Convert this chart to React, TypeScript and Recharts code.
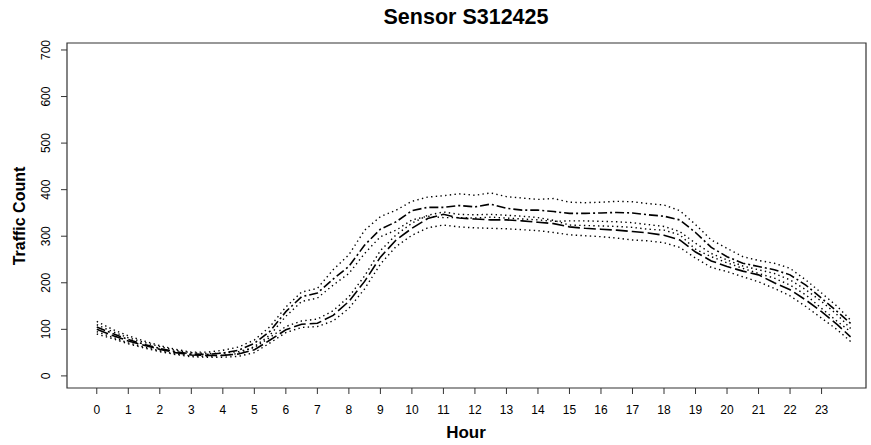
import { LineChart, Line, XAxis, YAxis, ReferenceArea } from "recharts"

const hours = [
  0, 0.5, 1, 1.5, 2, 2.5, 3, 3.5, 4, 4.5, 5, 5.5, 6, 6.5, 7, 7.5, 8, 8.5, 9, 9.5,
  10, 10.5, 11, 11.5, 12, 12.5, 13, 13.5, 14, 14.5, 15, 15.5, 16, 16.5, 17, 17.5,
  18, 18.5, 19, 19.5, 20, 20.5, 21, 21.5, 22, 22.5, 23, 23.5, 23.92,
]

// group with dot-dash mean line
const aUpper = [
  117, 100, 86, 75, 65, 57, 51, 51, 55, 62, 77, 106, 148, 180, 188, 228, 260, 313, 342, 356,
  375, 384, 387, 391, 388, 393, 385, 382, 379, 381, 373, 372, 373, 375, 374, 370,
  367, 355, 325, 292, 274, 256, 248, 242, 231, 206, 178, 149, 120,
]
const aMean = [
  105, 91, 78, 68, 59, 52, 47, 46, 49, 55, 70, 96, 138, 170, 178, 208, 235, 281, 315, 331,
  355, 362, 362, 366, 363, 369, 360, 356, 356, 353, 349, 349, 350, 351, 350, 346,
  343, 335, 308, 276, 256, 242, 235, 228, 217, 195, 167, 138, 113,
]
const aLower = [
  95, 83, 71, 62, 54, 47, 43, 42, 44, 48, 63, 88, 128, 160, 167, 195, 220, 263, 299, 313,
  335, 343, 340, 340, 339, 341, 339, 337, 335, 332, 333, 333, 332, 331, 329, 325,
  321, 310, 285, 263, 249, 236, 228, 220, 206, 185, 160, 131, 102,
]

// group with long-dash mean line
const bUpper = [
  110, 95, 82, 72, 63, 55, 50, 48, 49, 52, 61, 83, 106, 118, 122, 140, 170, 215, 269, 303,
  328, 345, 352, 347, 346, 347, 345, 343, 340, 334, 324, 323, 322, 321, 319, 315,
  313, 303, 272, 256, 243, 231, 220, 210, 195, 174, 145, 117, 95,
]
const bMean = [
  100, 87, 75, 66, 57, 50, 45, 44, 44, 47, 56, 77, 99, 111, 113, 130, 160, 203, 255, 292,
  317, 338, 347, 339, 337, 335, 335, 333, 330, 327, 320, 317, 315, 313, 310, 307,
  302, 292, 266, 247, 235, 225, 217, 200, 185, 163, 138, 110, 84,
]
const bLower = [
  90, 80, 69, 60, 52, 46, 41, 40, 40, 42, 50, 71, 93, 104, 106, 118, 145, 187, 240, 278,
  302, 318, 324, 320, 318, 317, 316, 314, 312, 308, 303, 301, 299, 296, 292, 290,
  286, 276, 253, 233, 224, 213, 202, 188, 172, 149, 124, 99, 74,
]

const hourTicks = Array.from({ length: 24 }, (_, i) => i)
const countTicks = [0, 100, 200, 300, 400, 500, 600, 700]

const rows = hours.map((h, i) => ({
  hour: h,
  aUpper: aUpper[i],
  aMean: aMean[i],
  aLower: aLower[i],
  bUpper: bUpper[i],
  bMean: bMean[i],
  bLower: bLower[i],
}))

const X_DOMAIN: [number, number] = [-0.945, 24.41]
const Y_DOMAIN: [number, number] = [-26, 715]
const FONT = "'Liberation Sans', Arial, sans-serif"

const DOTTED = "1.4 3.3"

function YTick({ x, y, payload }: any) {
  return (
    <text
      x={x}
      y={y}
      transform={`rotate(-90, ${x}, ${y})`}
      textAnchor="middle"
      dominantBaseline="central"
      fontSize={12}
      fontFamily={FONT}
      fill="#000"
    >
      {payload.value}
    </text>
  )
}

export default function App() {
  return (
    <div style={{ position: "absolute", left: 0, top: 0, width: 871, height: 445, background: "#fff", fontFamily: FONT }}>
      <LineChart width={871} height={445} data={rows} margin={{ top: 43, right: 5, bottom: 0, left: 7 }}>
        <XAxis
          dataKey="hour"
          type="number"
          domain={X_DOMAIN}
          ticks={hourTicks}
          allowDataOverflow
          axisLine={false}
          tickLine={{ stroke: "#333" }}
          tickSize={6}
          tickMargin={11}
          height={57}
          interval={0}
          tick={{ fontSize: 12, fill: "#000", fontFamily: FONT }}
        />
        <YAxis
          type="number"
          domain={Y_DOMAIN}
          ticks={countTicks}
          allowDataOverflow
          axisLine={false}
          tickLine={{ stroke: "#333" }}
          tickSize={6}
          tickMargin={15}
          width={60}
          interval={0}
          tick={<YTick />}
        />
        <ReferenceArea
          x1={X_DOMAIN[0]}
          x2={X_DOMAIN[1]}
          y1={Y_DOMAIN[0]}
          y2={Y_DOMAIN[1]}
          fill="none"
          stroke="#333"
          strokeWidth={1.2}
          ifOverflow="visible"
        />
        <Line dataKey="aUpper" type="linear" stroke="#000" strokeWidth={1.4} strokeDasharray={DOTTED} dot={false} activeDot={false} isAnimationActive={false} />
        <Line dataKey="aMean" type="linear" stroke="#000" strokeWidth={1.6} strokeDasharray="9 3 2 3" dot={false} activeDot={false} isAnimationActive={false} />
        <Line dataKey="aLower" type="linear" stroke="#000" strokeWidth={1.4} strokeDasharray={DOTTED} dot={false} activeDot={false} isAnimationActive={false} />
        <Line dataKey="bUpper" type="linear" stroke="#000" strokeWidth={1.4} strokeDasharray={DOTTED} dot={false} activeDot={false} isAnimationActive={false} />
        <Line dataKey="bMean" type="linear" stroke="#000" strokeWidth={1.6} strokeDasharray="12 4" dot={false} activeDot={false} isAnimationActive={false} />
        <Line dataKey="bLower" type="linear" stroke="#000" strokeWidth={1.4} strokeDasharray={DOTTED} dot={false} activeDot={false} isAnimationActive={false} />
      </LineChart>
      <div style={{ position: "absolute", left: 266, width: 400, top: 4, textAlign: "center", fontSize: 21.5, fontWeight: 700, color: "#000", lineHeight: "26px" }}>
        Sensor S312425
      </div>
      <div style={{ position: "absolute", left: 266, width: 400, top: 423, textAlign: "center", fontSize: 17, fontWeight: 700, color: "#000", lineHeight: "20px" }}>
        Hour
      </div>
      <div
        style={{
          position: "absolute",
          left: 20,
          top: 216,
          width: 200,
          marginLeft: -100,
          marginTop: -10,
          textAlign: "center",
          fontSize: 16,
          fontWeight: 700,
          color: "#000",
          lineHeight: "20px",
          transform: "rotate(-90deg)",
        }}
      >
        Traffic Count
      </div>
    </div>
  )
}
